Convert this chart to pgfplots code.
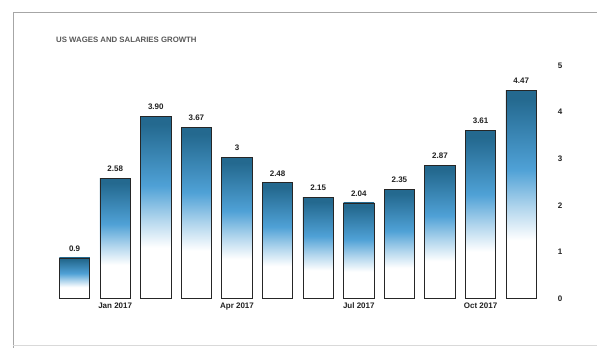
\documentclass[border=0pt]{standalone}
\usepackage{pgfplots}
\pgfplotsset{compat=1.18}
\usepackage{fontspec}
\setmainfont{Liberation Sans}
\definecolor{bartop}{HTML}{24698F}
\definecolor{barmid}{HTML}{4FA1D6}
\definecolor{txt}{HTML}{222222}
\pgfdeclareverticalshading{barshade}{100bp}{color(0bp)=(white); color(25bp)=(white); color(39bp)=(white); color(47bp)=(barmid!45!white); color(56bp)=(barmid); color(73bp)=(bartop); color(100bp)=(bartop)}
\pgfplotsset{onebar/.style={ybar, bar width=30.5pt, bar shift=0pt, draw=black!85, line width=0.9pt, shade, shading=barshade,
  point meta=explicit symbolic, nodes near coords,
  every node near coord/.append style={font=\bfseries\fontsize{8}{9}\selectfont, text=txt, yshift=3pt}}}
\begin{document}
\begin{tikzpicture}
\useasboundingbox (0pt,0pt) rectangle (597pt,350pt);
\fill[white] (0pt,0pt) rectangle (597pt,350pt);
\draw[black!35, line width=0.6pt] (13pt,2pt) -- (13pt,338pt) -- (597pt,338pt);
\draw[black!15, line width=0.5pt] (13pt,5pt) -- (597pt,5pt);
\node[anchor=west, font=\bfseries\fontsize{7.8}{8}\selectfont, text=black!65, inner sep=0pt] at (56pt,310pt) {US WAGES AND SALARIES GROWTH};
\begin{axis}[
  at={(74.6pt,51.5pt)}, anchor=origin,
  scale only axis, width=487.2pt, height=233pt,
  xmin=-0.5, xmax=11.5, ymin=0, ymax=5,
  axis line style={draw=none},
  major tick length=0pt,
  xtick={1,4,7,10},
  xticklabels={Jan 2017,Apr 2017,Jul 2017,Oct 2017},
  xticklabel style={font=\bfseries\fontsize{8}{9}\selectfont, text=txt, yshift=-1pt},
  ytick={0,1,2,3,4,5},
  ytick pos=right, yticklabel pos=right,
  yticklabel style={font=\bfseries\fontsize{8}{9}\selectfont, text=txt, anchor=center, xshift=18.5pt},
  /pgf/number format/assume math mode=true,
  clip=false,
]
\addplot[onebar] coordinates {(0,0.87) [0.9]};
\addplot[onebar] coordinates {(1,2.58) [2.58]};
\addplot[onebar] coordinates {(2,3.90) [3.90]};
\addplot[onebar] coordinates {(3,3.67) [3.67]};
\addplot[onebar] coordinates {(4,3.03) [3]};
\addplot[onebar] coordinates {(5,2.48) [2.48]};
\addplot[onebar] coordinates {(6,2.16) [2.15]};
\addplot[onebar] coordinates {(7,2.05) [2.04]};
\addplot[onebar] coordinates {(8,2.34) [2.35]};
\addplot[onebar] coordinates {(9,2.86) [2.87]};
\addplot[onebar] coordinates {(10,3.60) [3.61]};
\addplot[onebar] coordinates {(11,4.47) [4.47]};
\end{axis}
\end{tikzpicture}
\end{document}
